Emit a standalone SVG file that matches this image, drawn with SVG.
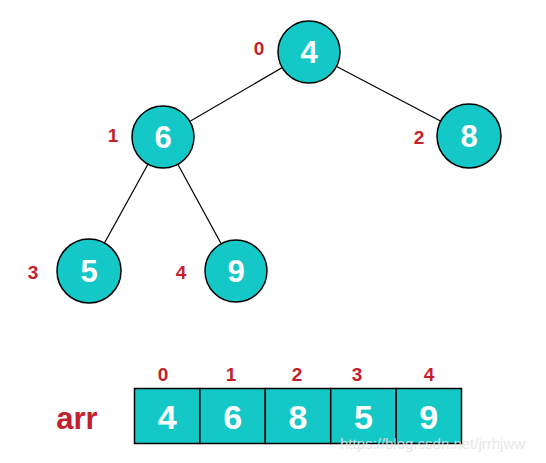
<svg xmlns="http://www.w3.org/2000/svg" width="546" height="463" viewBox="0 0 546 463">
<style>
.n circle{fill:#14c8c8;stroke:#000;stroke-width:1.5}
.n text,.cell text{fill:#fff;font-family:"Liberation Sans",Arial,sans-serif;font-weight:bold;text-anchor:middle}
.n text{font-size:31px}
.idx{fill:#c41f2d;font-family:"Liberation Sans",Arial,sans-serif;font-weight:bold;font-size:19px;text-anchor:middle}
.cell rect{fill:#14c8c8;stroke:#000;stroke-width:1.5}
.cell text{font-size:34px}
#edges line{stroke:#000;stroke-width:1.2}
</style>
<rect width="546" height="463" fill="#fff"/>
<g id="edges">
<line x1="309" y1="52" x2="163" y2="137"/>
<line x1="309" y1="52" x2="469" y2="136"/>
<line x1="163" y1="137" x2="89" y2="271"/>
<line x1="163" y1="137" x2="236" y2="271"/>
</g>
<g id="node0" class="n"><circle cx="309" cy="52" r="31"/><text x="309" y="63">4</text></g>
<g id="node1" class="n"><circle cx="163" cy="137" r="31"/><text x="163" y="148">6</text></g>
<g id="node2" class="n"><circle cx="469" cy="136" r="32"/><text x="469" y="147">8</text></g>
<g id="node3" class="n"><circle cx="89" cy="271" r="32"/><text x="89" y="282">5</text></g>
<g id="node4" class="n"><circle cx="236" cy="271" r="31"/><text x="236" y="282">9</text></g>
<g id="treeLabels">
<text class="idx" x="259" y="55">0</text>
<text class="idx" x="113" y="142">1</text>
<text class="idx" x="419" y="144">2</text>
<text class="idx" x="33" y="279">3</text>
<text class="idx" x="181" y="279">4</text>
</g>
<g id="array">
<text x="77" y="429" style="fill:#c41f2d;font-family:'Liberation Sans',Arial,sans-serif;font-weight:bold;font-size:31px;text-anchor:middle">arr</text>
<g class="cell" id="cell0"><rect x="134.5" y="388.5" width="65.4" height="55"/><text x="167.2" y="429">4</text></g>
<g class="cell" id="cell1"><rect x="199.9" y="388.5" width="65.4" height="55"/><text x="232.6" y="429">6</text></g>
<g class="cell" id="cell2"><rect x="265.3" y="388.5" width="65.4" height="55"/><text x="298" y="429">8</text></g>
<g class="cell" id="cell3"><rect x="330.7" y="388.5" width="65.4" height="55"/><text x="363.4" y="429">5</text></g>
<g class="cell" id="cell4"><rect x="396.1" y="388.5" width="65.4" height="55"/><text x="428.8" y="429">9</text></g>
<text class="idx" x="163" y="381">0</text>
<text class="idx" x="231" y="381">1</text>
<text class="idx" x="297" y="381">2</text>
<text class="idx" x="357" y="381">3</text>
<text class="idx" x="429" y="381">4</text>
</g>
<text x="340" y="449" style="fill:#e4e4e4;font-family:'Liberation Sans',Arial,sans-serif;font-size:15px;opacity:0.85">https://blog.csdn.net/jrrhjww</text>
</svg>
